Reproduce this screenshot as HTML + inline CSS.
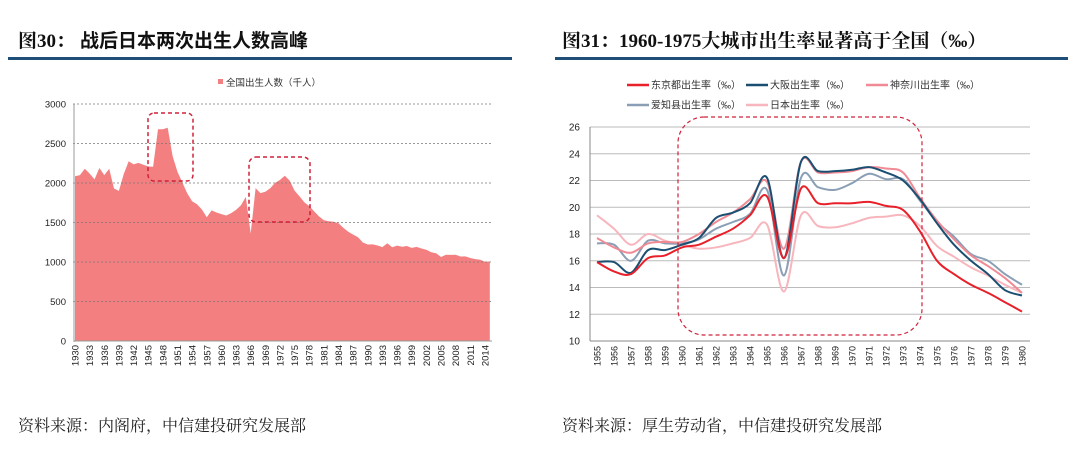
<!DOCTYPE html>
<html><head><meta charset="utf-8"><style>
body{margin:0;width:1080px;height:460px;background:#fff;overflow:hidden;font-family:"Liberation Sans","Noto Sans CJK SC",sans-serif}
</style></head><body>
<svg id="s" width="1080" height="460" xmlns="http://www.w3.org/2000/svg" font-family="Liberation Sans, Noto Sans CJK SC, sans-serif">
<text x="18" y="47" font-size="19" font-weight="bold" fill="#111" font-family="Liberation Serif, Noto Serif CJK SC, serif">图30：</text>
<text x="80" y="47" font-size="19" font-weight="bold" fill="#111" font-family="Noto Sans CJK SC, sans-serif">战后日本两次出生人数高峰</text>
<rect x="8" y="57" width="504" height="3" fill="#1f4e79"/>
<text x="562" y="47" font-size="19" font-weight="bold" fill="#111" font-family="Liberation Serif, Noto Serif CJK SC, serif">图31：1960-1975大城市出生率显著高于全国（‰）</text>
<rect x="555" y="57" width="513" height="3" fill="#1f4e79"/>
<text x="18" y="431" font-size="16" fill="#222" font-family="Noto Serif CJK SC, serif">资料来源：内阁府，中信建投研究发展部</text>
<text x="562" y="431" font-size="16" fill="#222" font-family="Noto Serif CJK SC, serif">资料来源：厚生劳动省，中信建投研究发展部</text>
<rect x="218" y="79" width="5" height="5" fill="#f47f80"/>
<text x="226" y="86" font-size="9.5" fill="#333">全国出生人数（千人）</text>
<g id="L"></g><g id="R"></g>
</svg>
<script>
var NS="http://www.w3.org/2000/svg";
function el(p,t,a,txt){var e=document.createElementNS(NS,t);for(var k in a)e.setAttribute(k,a[k]);if(txt!=null)e.textContent=txt;p.appendChild(e);return e;}
var L=document.getElementById('L'),R=document.getElementById('R');
var v=[2085,2100,2180,2120,2045,2190,2100,2180,1930,1900,2115,2275,2235,2255,2230,2210,2205,2680,2680,2700,2340,2140,2005,1870,1770,1730,1665,1567,1653,1626,1606,1589,1619,1660,1717,1824,1361,1936,1872,1890,1934,2001,2039,2092,2030,1901,1833,1755,1709,1643,1577,1529,1515,1509,1490,1432,1383,1347,1314,1247,1222,1223,1209,1188,1238,1187,1207,1192,1203,1178,1191,1171,1154,1124,1111,1063,1093,1090,1091,1070,1071,1051,1037,1030,1004,1006];
function lx(i){return 75+i*4.88}function ly(val){return 341-val*237/3000}
var d="M75,341";v.forEach(function(val,i){d+=" L"+lx(i).toFixed(1)+","+ly(val).toFixed(1)});d+=" L"+lx(85)+",341Z";
el(L,'path',{d:d,fill:'#f47f80'});
for(var k=0;k<=6;k++){var y=ly(k*500);
 if(k>0)el(L,'line',{x1:73,x2:492,y1:y,y2:y,stroke:'#777','stroke-dasharray':'2,2','stroke-width':0.8});
 el(L,'text',{x:66,y:y+3.5,'font-size':9.5,'text-anchor':'end',fill:'#222'},String(k*500));}
el(L,'line',{x1:74,x2:74,y1:104,y2:342,stroke:'#999'});
el(L,'line',{x1:74,x2:492,y1:341,y2:341,stroke:'#999'});
for(var i=0;i<=84;i+=3){var x=lx(i);el(L,'text',{transform:'translate('+(x+3.5)+',345) rotate(-90)','font-size':9.5,'text-anchor':'end',fill:'#222'},String(1930+i));}
el(L,'rect',{x:148,y:113,width:45,height:68,rx:6,fill:'none',stroke:'#d0213a','stroke-width':1.5,'stroke-dasharray':'4,3'});
el(L,'rect',{x:249,y:157,width:61,height:65,rx:7,fill:'none',stroke:'#d0213a','stroke-width':1.5,'stroke-dasharray':'4,3'});
function rx(i){return 597+i*17}function ry(val){return 341-(val-10)*13.375}
for(var k=10;k<=26;k+=2){var y=ry(k);
 el(R,'line',{x1:590,x2:1030,y1:y,y2:y,stroke:k==10?'#888':'#bbb','stroke-width':1});
 el(R,'text',{x:580,y:y+3.5,'font-size':10,'text-anchor':'end',fill:'#222'},String(k));}
el(R,'line',{x1:590,x2:590,y1:127,y2:341,stroke:'#888'});
for(var i=0;i<=25;i++){el(R,'text',{transform:'translate('+(rx(i)+3.5)+',346) rotate(-90)','font-size':9,'text-anchor':'end',fill:'#222'},String(1955+i));}
var S=[
['#f7b6bd',[19.4,18.4,17.2,18.0,17.5,17.2,16.9,17.0,17.3,17.7,18.7,13.7,19.4,18.6,18.5,18.8,19.2,19.3,19.4,18.6,17.1,16.3,15.5,14.9,14.2,13.6]],
['#8a9fb5',[17.3,17.2,16.0,17.5,17.3,17.3,17.6,18.4,18.9,19.5,21.3,14.9,22.2,21.5,21.3,21.8,22.5,22.1,22.1,20.5,18.9,17.8,16.5,16.0,15.0,14.2]],
['#f08a94',[17.7,17.0,16.6,17.3,17.4,17.4,18.0,18.9,19.6,20.6,21.9,16.9,23.4,22.6,22.6,22.7,23.0,22.9,22.6,20.7,19.0,17.6,16.4,15.6,14.7,13.6]],
['#1b4f72',[15.9,15.9,15.1,16.8,16.8,17.2,17.7,19.2,19.6,20.3,22.2,16.2,23.4,22.7,22.7,22.8,23.0,22.6,22.0,20.6,18.8,17.2,16.0,15.0,13.8,13.4]],
['#e8202a',[15.9,15.2,15.0,16.2,16.4,17.0,17.2,17.8,18.4,19.4,20.8,16.2,21.4,20.3,20.3,20.3,20.4,20.1,19.8,18.2,16.0,15.0,14.2,13.6,12.9,12.2]]];
S.forEach(function(s){var p=s[1].map(function(val,i){return [rx(i),ry(val)]});
 var d="M"+p[0][0]+","+p[0][1];
 for(var i=0;i<p.length-1;i++){var p0=p[Math.max(i-1,0)],p1=p[i],p2=p[i+1],p3=p[Math.min(i+2,p.length-1)];
  d+=" C"+(p1[0]+(p2[0]-p0[0])/6).toFixed(1)+","+(p1[1]+(p2[1]-p0[1])/6).toFixed(1)+" "+(p2[0]-(p3[0]-p1[0])/6).toFixed(1)+","+(p2[1]-(p3[1]-p1[1])/6).toFixed(1)+" "+p2[0].toFixed(1)+","+p2[1].toFixed(1);}
 el(R,'path',{d:d,fill:'none',stroke:s[0],'stroke-width':2});});
el(R,'rect',{x:678,y:117,width:244,height:218,rx:26,fill:'none',stroke:'#d0213a','stroke-width':1.2,'stroke-dasharray':'4,3'});
var lg=[[627,85,'#e8202a','东京都出生率（‰）'],[746,85,'#1b4f72','大阪出生率（‰）'],[866,85,'#f08a94','神奈川出生率（‰）'],[627,105,'#8a9fb5','爱知县出生率（‰）'],[746,105,'#f7b6bd','日本出生率（‰）']];
lg.forEach(function(g){el(R,'line',{x1:g[0],x2:g[0]+22,y1:g[1],y2:g[1],stroke:g[2],'stroke-width':2.5});
 el(R,'text',{x:g[0]+24,y:g[1]+3.5,'font-size':10,fill:'#333'},g[3]);});
</script>
</body></html>
